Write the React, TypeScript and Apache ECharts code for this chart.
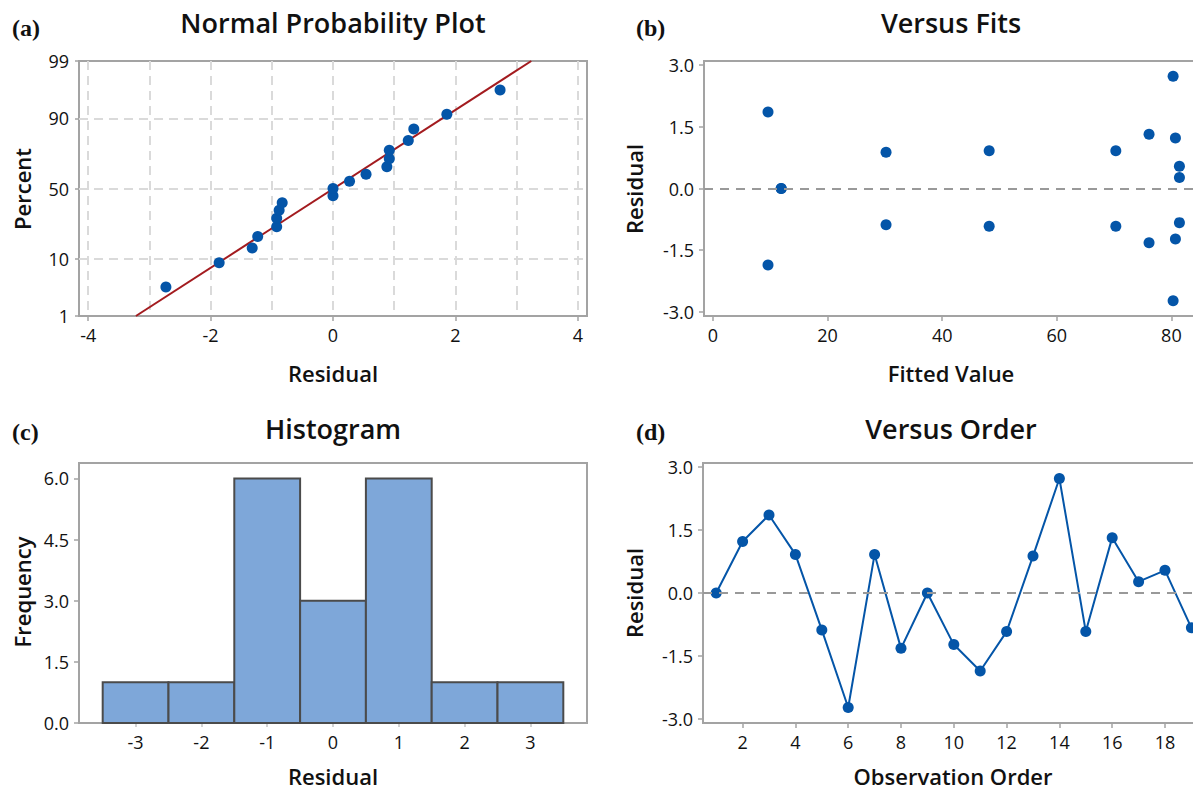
import React, { useEffect, useRef } from "react";
import * as echarts from "echarts";

// ---------- data ----------
const observationOrder = [1, 2, 3, 4, 5, 6, 7, 8, 9, 10, 11, 12, 13, 14, 15, 16, 17, 18, 19];
const residuals = [0.0, 1.23, 1.86, 0.92, -0.88, -2.73, 0.92, -1.32, 0.0, -1.23, -1.86, -0.92, 0.88, 2.73, -0.92, 1.32, 0.27, 0.54, -0.83];
const fittedValues = [11.9, 80.7, 9.6, 48.2, 30.2, 80.3, 70.3, 76.1, 11.9, 80.7, 9.6, 48.2, 30.2, 80.3, 70.3, 76.1, 81.4, 81.4, 81.4];
const normalPercents = [3.6, 8.8, 13.9, 19.1, 24.2, 29.4, 34.5, 39.7, 44.8, 50.0, 55.2, 60.3, 65.5, 70.6, 75.8, 80.9, 86.1, 91.2, 96.4];
const fitLineResidual = [-3.22, 3.24];
const fitLinePercent = [1, 99];
const histBinStart = [-3.5, -2.5, -1.5, -0.5, 0.5, 1.5, 2.5];
const histBinEnd = [-2.5, -1.5, -0.5, 0.5, 1.5, 2.5, 3.5];
const histCounts = [1, 1, 6, 3, 6, 1, 1];

// tick labels
const percentTicks = [1, 10, 50, 90, 99];
const residualTicksA = [-4, -2, 0, 2, 4];
const residualGridA = [-4, -3, -2, -1, 0, 1, 2, 3, 4];
const residualTicks = [-3, -1.5, 0, 1.5, 3];
const fittedTicks = [0, 20, 40, 60, 80];
const histXTicks = [-3, -2, -1, 0, 1, 2, 3];
const frequencyTicks = [0, 1.5, 3, 4.5, 6];
const orderTicks = [2, 4, 6, 8, 10, 12, 14, 16, 18];

// inverse standard normal CDF (probability-axis transform)
function normInv(p: number): number {
  const a = [-3.969683028665376e1, 2.209460984245205e2, -2.759285104469687e2, 1.38357751867269e2, -3.066479806614716e1, 2.506628277459239];
  const b = [-5.447609879822406e1, 1.615858368580409e2, -1.556989798598866e2, 6.680131188771972e1, -1.328068155288572e1];
  const c = [-7.784894002430293e-3, -3.223964580411365e-1, -2.400758277161838, -2.549732539343734, 4.374664141464968, 2.938163982698783];
  const d = [7.784695709041462e-3, 3.224671290700398e-1, 2.445134137142996, 3.754408661907416];
  const plow = 0.02425;
  if (p < plow) {
    const q = Math.sqrt(-2 * Math.log(p));
    return (((((c[0] * q + c[1]) * q + c[2]) * q + c[3]) * q + c[4]) * q + c[5]) / ((((d[0] * q + d[1]) * q + d[2]) * q + d[3]) * q + 1);
  }
  if (p <= 1 - plow) {
    const q = p - 0.5;
    const r = q * q;
    return ((((((a[0] * r + a[1]) * r + a[2]) * r + a[3]) * r + a[4]) * r + a[5]) * q) / (((((b[0] * r + b[1]) * r + b[2]) * r + b[3]) * r + b[4]) * r + 1);
  }
  const q = Math.sqrt(-2 * Math.log(1 - p));
  return -(((((c[0] * q + c[1]) * q + c[2]) * q + c[3]) * q + c[4]) * q + c[5]) / ((((d[0] * q + d[1]) * q + d[2]) * q + d[3]) * q + 1);
}
const zOf = (pct: number) => normInv(pct / 100);

const FONT = "'Open Sans', 'Noto Sans', sans-serif";
const AXIS_GRAY = "#a3a3a3";
const POINT_BLUE = "#0455a8";
const LABEL_STYLE = { color: "#111", fontSize: 18, fontFamily: FONT };
const TICK = { show: true, length: 5, lineStyle: { color: AXIS_GRAY, width: 1.5 } };
const NO_LINE = { show: false, onZero: false };
const GRID_STYLE = { show: true, borderColor: AXIS_GRAY, borderWidth: 2, backgroundColor: "transparent" };

export default function App() {
  const ref = useRef<HTMLDivElement>(null);

  useEffect(() => {
    document.body.style.margin = "0";
    document.body.style.overflow = "hidden";
    if (!ref.current) return;
    const chart = echarts.init(ref.current, undefined, { renderer: "svg" });

    const sortedResiduals = [...residuals].sort((x, y) => x - y);
    const zPercentTicks = percentTicks.map(zOf);

    const title = (text: string, x: number, y: number) => ({
      type: "text",
      x,
      y,
      style: { text, font: `600 27px ${FONT}`, fill: "#111", align: "center", verticalAlign: "middle" },
    });
    const letter = (text: string, x: number, y: number) => ({
      type: "text",
      x,
      y,
      style: { text, font: "bold 24px 'Liberation Serif', 'DejaVu Serif', serif", fill: "#111", align: "left", verticalAlign: "middle" },
    });
    const axisName = (text: string, x: number, y: number, rotate = false) => ({
      type: "text",
      x,
      y,
      rotation: rotate ? Math.PI / 2 : 0,
      style: { text, font: `600 22px ${FONT}`, fill: "#111", align: "center", verticalAlign: "middle" },
    });

    const option: any = {
      animation: false,
      backgroundColor: "#fff",
      grid: [
        { left: 79, top: 61, width: 508, height: 255, ...GRID_STYLE },
        { left: 704, top: 61, width: 500, height: 255, ...GRID_STYLE },
        { left: 79, top: 463, width: 508, height: 260, ...GRID_STYLE },
        { left: 703, top: 463, width: 512, height: 260, ...GRID_STYLE },
      ],
      xAxis: [
        {
          type: "value", gridIndex: 0, min: -4.15, max: 4.15,
          axisLine: NO_LINE,
          axisTick: { ...TICK, customValues: residualTicksA },
          axisLabel: { ...LABEL_STYLE, margin: 10, customValues: residualTicksA, formatter: (v: number) => String(v) },
          splitLine: { show: false },
        },
        {
          type: "value", gridIndex: 0, min: -4.15, max: 4.15, position: "bottom",
          axisLine: NO_LINE,
          axisTick: { show: false, customValues: residualGridA },
          axisLabel: { show: false },
          splitLine: { show: true, lineStyle: { color: "#dadada", width: 2, type: [9, 6] } },
        },
        {
          type: "value", gridIndex: 1, min: -9 / 5.73, max: -9 / 5.73 + 500 / 5.73,
          axisLine: NO_LINE,
          axisTick: { ...TICK, customValues: fittedTicks },
          axisLabel: { ...LABEL_STYLE, margin: 10, customValues: fittedTicks, formatter: (v: number) => String(v) },
          splitLine: { show: false },
        },
        {
          type: "value", gridIndex: 2, min: -3.86, max: 3.86,
          axisLine: NO_LINE,
          axisTick: { ...TICK, length: 4, lineStyle: { color: "#c4c4c4", width: 1.5 }, customValues: histXTicks },
          axisLabel: { ...LABEL_STYLE, margin: 10, customValues: histXTicks, formatter: (v: number) => String(v) },
          splitLine: { show: false },
        },
        {
          type: "value", gridIndex: 3, min: 0.5, max: 0.5 + 512 / 26.4,
          axisLine: NO_LINE,
          axisTick: { ...TICK, customValues: orderTicks },
          axisLabel: { ...LABEL_STYLE, margin: 10, customValues: orderTicks, formatter: (v: number) => String(v) },
          splitLine: { show: false },
        },
      ],
      yAxis: [
        {
          type: "value", gridIndex: 0, min: zOf(1), max: zOf(99),
          axisLine: NO_LINE,
          axisTick: { ...TICK, length: 4, customValues: zPercentTicks },
          axisLabel: {
            ...LABEL_STYLE, margin: 10, customValues: zPercentTicks,
            formatter: (v: number) => {
              let best = 0;
              zPercentTicks.forEach((z, i) => { if (Math.abs(z - v) < Math.abs(zPercentTicks[best] - v)) best = i; });
              return String(percentTicks[best]);
            },
          },
          splitLine: { show: true, showMinLine: false, showMaxLine: false, lineStyle: { color: "#dadada", width: 2, type: [9, 6] } },
        },
        {
          type: "value", gridIndex: 1, min: -3.1, max: 3.1,
          axisLine: NO_LINE,
          axisTick: { ...TICK, customValues: residualTicks },
          axisLabel: { ...LABEL_STYLE, margin: 10, customValues: residualTicks, formatter: (v: number) => v.toFixed(1) },
          splitLine: { show: false },
        },
        {
          type: "value", gridIndex: 2, min: 0, max: 6.38,
          axisLine: NO_LINE,
          axisTick: { ...TICK, customValues: frequencyTicks },
          axisLabel: { ...LABEL_STYLE, margin: 10, customValues: frequencyTicks, formatter: (v: number) => v.toFixed(1) },
          splitLine: { show: false },
        },
        {
          type: "value", gridIndex: 3, min: -3.1, max: 3.1,
          axisLine: NO_LINE,
          axisTick: { ...TICK, customValues: residualTicks },
          axisLabel: { ...LABEL_STYLE, margin: 10, customValues: residualTicks, formatter: (v: number) => v.toFixed(1) },
          splitLine: { show: false },
        },
      ],
      series: [
        {
          type: "line", xAxisIndex: 0, yAxisIndex: 0, silent: true,
          data: fitLineResidual.map((x, i) => [x, zOf(fitLinePercent[i])]),
          showSymbol: false, symbol: "none",
          lineStyle: { color: "#a31b1f", width: 2 },
          z: 3,
        },
        {
          type: "scatter", xAxisIndex: 0, yAxisIndex: 0, silent: true,
          data: sortedResiduals.map((r, i) => [r, zOf(normalPercents[i])]),
          symbolSize: 11, itemStyle: { color: POINT_BLUE, opacity: 1 },
          z: 4,
        },
        {
          type: "scatter", xAxisIndex: 2, yAxisIndex: 1, silent: true,
          data: fittedValues.map((f, i) => [f, residuals[i]]),
          symbolSize: 11, itemStyle: { color: POINT_BLUE, opacity: 1 },
          markLine: {
            silent: true, symbol: "none", label: { show: false },
            lineStyle: { color: "#999", width: 2, type: [9, 7] },
            data: [{ yAxis: 0 }],
          },
          z: 4,
        },
        {
          type: "custom", xAxisIndex: 3, yAxisIndex: 2, silent: true,
          data: histBinStart.map((s, i) => [s, histBinEnd[i], histCounts[i]]),
          encode: { x: [0, 1], y: 2 },
          renderItem: (params: any, api: any) => {
            const p0 = api.coord([api.value(0), 0]);
            const p1 = api.coord([api.value(1), api.value(2)]);
            return {
              type: "rect",
              shape: { x: p0[0], y: p1[1], width: p1[0] - p0[0], height: p0[1] - p1[1] },
              style: { fill: "#7ea7d9", stroke: "#4b4b4b", lineWidth: 2 },
            };
          },
        },
        {
          type: "line", xAxisIndex: 4, yAxisIndex: 3, silent: true,
          data: observationOrder.map((o, i) => [o, residuals[i]]),
          symbol: "circle", symbolSize: 11, showSymbol: true,
          lineStyle: { color: POINT_BLUE, width: 2 },
          itemStyle: { color: POINT_BLUE },
          markLine: {
            silent: true, symbol: "none", label: { show: false },
            lineStyle: { color: "#999", width: 2, type: [9, 7] },
            data: [{ yAxis: 0 }],
          },
          z: 4,
        },
      ],
      graphic: [
        letter("(a)", 12, 28),
        title("Normal Probability Plot", 333, 22),
        axisName("Percent", 22, 189, true),
        axisName("Residual", 333, 373),
        letter("(b)", 636, 28),
        title("Versus Fits", 951, 22),
        axisName("Residual", 634, 189, true),
        axisName("Fitted Value", 951, 373),
        letter("(c)", 12, 432),
        title("Histogram", 333, 428),
        axisName("Frequency", 22, 592, true),
        axisName("Residual", 333, 776),
        letter("(d)", 636, 432),
        title("Versus Order", 951, 428),
        axisName("Residual", 634, 593, true),
        axisName("Observation Order", 953, 776),
      ],
    };

    chart.setOption(option);
    return () => chart.dispose();
  }, []);

  return <div ref={ref} style={{ width: 1240, height: 790 }} />;
}
